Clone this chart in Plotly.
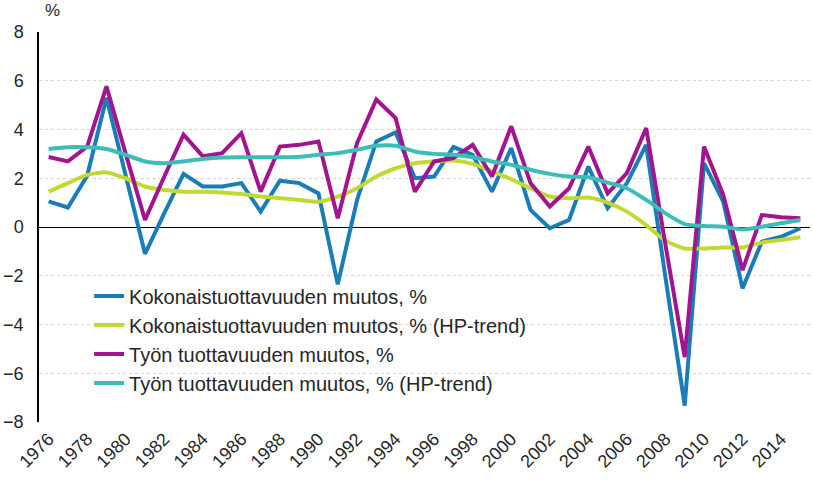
import plotly.graph_objects as go

years = list(range(1976, 2016))

koko = [1.05, 0.8, 2.1, 5.3, 2.1, -1.1, 0.57, 2.18, 1.66, 1.66, 1.8, 0.63, 1.9, 1.8, 1.38,
        -2.35, 1.11, 3.51, 3.88, 2.0, 2.07, 3.28, 2.96, 1.45, 3.24, 0.7, -0.05, 0.29, 2.48, 0.77,
        1.8, 3.37, -2.06, -7.33, 2.62, 1.04, -2.52, -0.6, -0.4, -0.05]
koko_trend = [1.45, 1.8, 2.14, 2.24, 2.0, 1.66, 1.52, 1.45, 1.45, 1.42, 1.35, 1.25, 1.18, 1.11, 1.04,
              1.25, 1.59, 2.07, 2.41, 2.62, 2.69, 2.73, 2.59, 2.28, 1.96, 1.59, 1.25, 1.18, 1.21, 1.0,
              0.63, 0.08, -0.56, -0.88, -0.88, -0.84, -0.84, -0.64, -0.53, -0.42]
tyo = [2.87, 2.69, 3.3, 5.77, 3.0, 0.29, 2.07, 3.79, 2.9, 3.03, 3.85, 1.45, 3.3, 3.37, 3.51,
       0.36, 3.44, 5.23, 4.47, 1.45, 2.69, 2.83, 3.37, 2.07, 4.13, 1.8, 0.84, 1.59, 3.3, 1.38,
       2.21, 4.06, -0.73, -5.34, 3.3, 1.32, -1.77, 0.49, 0.4, 0.36]
tyo_trend = [3.2, 3.27, 3.27, 3.2, 2.96, 2.69, 2.62, 2.69, 2.79, 2.85, 2.86, 2.86, 2.86, 2.88, 2.96,
             3.03, 3.17, 3.33, 3.33, 3.1, 3.0, 2.96, 2.86, 2.69, 2.55, 2.35, 2.18, 2.07, 2.04, 1.82,
             1.59, 1.11, 0.56, 0.12, 0.04, 0.01, -0.1, 0.01, 0.15, 0.29]

names = ["Kokonaistuottavuuden muutos, %",
         "Kokonaistuottavuuden muutos, % (HP-trend)",
         "Työn tuottavuuden muutos, %",
         "Työn tuottavuuden muutos, % (HP-trend)"]
colors = ["#1a7db8", "#c2d833", "#a3158f", "#3dbdb8"]
series = [koko, koko_trend, tyo, tyo_trend]
shapes = ["linear", "spline", "linear", "spline"]

tick_years = list(range(1976, 2015, 2))
y_ticks = [-8, -6, -4, -2, 0, 2, 4, 6, 8]

fig = go.Figure()
for nm, col, ys, sh in zip(names, colors, series, shapes):
    fig.add_trace(go.Scatter(x=years, y=ys, name=nm, mode="lines",
                             line=dict(color=col, width=4, shape=sh, smoothing=0.6)))

font_family = "Liberation Sans, Arial, sans-serif"
fig.update_layout(
    width=813, height=481,
    margin=dict(l=37, r=3, t=32, b=59),
    paper_bgcolor="white", plot_bgcolor="white",
    font=dict(family=font_family, size=17, color="#262626"),
    showlegend=True,
    legend=dict(x=0.065, y=0.373, xanchor="left", yanchor="top",
                bgcolor="rgba(0,0,0,0)", font=dict(size=20, color="#262626")),
    xaxis=dict(range=[1975.5, 2015.5], tickmode="array", tickvals=tick_years,
               ticktext=[str(y) for y in tick_years], tickangle=-45,
               showgrid=False, zeroline=False, showline=False, ticks="",
               ticklabelstandoff=2,
               tickfont=dict(size=18)),
    yaxis=dict(range=[-8, 8], tickmode="array", tickvals=y_ticks,
               showgrid=True, gridcolor="#d4d4d4", gridwidth=1, griddash="dot",
               zeroline=True, zerolinecolor="black", zerolinewidth=1.2,
               showline=True, linecolor="black", linewidth=1.5,
               ticks="", ticklabelstandoff=10, tickfont=dict(size=18)),
    annotations=[dict(text="%", xref="paper", yref="paper", x=0.005, y=1.054,
                      xanchor="left", yanchor="middle", showarrow=False,
                      font=dict(size=17, color="#262626"))],
)

fig.write_html("out.html", config={"displayModeBar": False},
               post_script="document.body.style.margin='0';")
